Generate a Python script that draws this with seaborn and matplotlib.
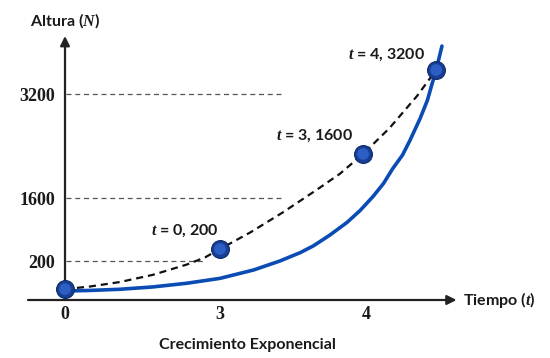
import numpy as np
import pandas as pd
import matplotlib
matplotlib.use('Agg')
import matplotlib.pyplot as plt
import seaborn as sns

# Points marked on the curve (t, N as drawn in the picture)
point_t = [0, 3, 3.98, 4.48]
point_n = [56, 467, 2277, 3569]
point_labels = ['', '$t$ = 0, 200', '$t$ = 3, 1600', '$t$ = 4, 3200']

# Dashed curve through the points
dash_t = [0, 0.48, 1.06, 1.70, 2.36, 2.71, 3.0, 3.21, 3.43, 3.66, 3.82, 3.98, 4.16, 4.35, 4.48]
dash_n = [56, 69, 92, 129, 182, 280, 467, 840, 1280, 1723, 1971, 2278, 2674, 3172, 3569]

# Solid blue exponential curve
curve_t = [0, 0.48, 1.06, 1.70, 2.36, 3.00, 3.23, 3.41, 3.55, 3.64, 3.75, 3.87, 3.96, 4.05,
           4.12, 4.18, 4.25, 4.30, 4.37, 4.42, 4.45, 4.48, 4.52]
curve_n = [46, 49, 55, 67, 86, 111, 154, 200, 387, 538, 771, 1058, 1324, 1629,
           1825, 2043, 2262, 2483, 2822, 3102, 3340, 3569, 3938]

xtick_vals = [0, 3, 4]
xtick_labels = ['0', '3', '4']
ytick_vals = [200, 1600, 3200]
ytick_labels = ['200', '1600', '3200']
grid_end = [2.70, 3.42, 3.42]

dash_df = pd.DataFrame({'t': dash_t, 'N': dash_n})
curve_df = pd.DataFrame({'t': curve_t, 'N': curve_n})
pts_df = pd.DataFrame({'t': point_t, 'N': point_n})


# the drawing is not to scale: piecewise linear axes
def t_fwd(t):
    t = np.asarray(t, dtype=float)
    return np.where(t <= 3, t * 155 / 3, 155 + (t - 3) * 146)


def t_inv(p):
    p = np.asarray(p, dtype=float)
    return np.where(p <= 155, p * 3 / 155, 3 + (p - 155) / 146)


def n_fwd(n):
    n = np.asarray(n, dtype=float)
    return np.where(n <= 200, n * 39 / 200,
                    np.where(n <= 1600, 39 + (n - 200) * 63 / 1400, 102 + (n - 1600) * 104 / 1600))


def n_inv(h):
    h = np.asarray(h, dtype=float)
    return np.where(h <= 39, h * 200 / 39,
                    np.where(h <= 102, 200 + (h - 39) * 1400 / 63, 1600 + (h - 102) * 1600 / 104))


sns.set_theme(style='white')
plt.rcParams['font.family'] = ['Lato', 'DejaVu Sans']
plt.rcParams['mathtext.fontset'] = 'custom'
plt.rcParams['mathtext.it'] = 'Liberation Serif:italic:bold'
plt.rcParams['mathtext.rm'] = 'Lato:bold'

fig = plt.figure(figsize=(5.5, 3.58), dpi=100)
ax = fig.add_axes([65 / 550, 58 / 358, 405 / 550, 270 / 358])
ax.set_xscale('function', functions=(t_fwd, t_inv))
ax.set_yscale('function', functions=(n_fwd, n_inv))
ax.set_xlim(0, 4.712)
ax.set_ylim(0, 4185)

for y, xe in zip(ytick_vals, grid_end):
    ax.hlines(y, 0.02, xe, colors='#555555', linestyles=(0, (4, 3)), lw=0.9, zorder=1)

sns.lineplot(data=curve_df, x='t', y='N', color='#0a4cb4', lw=2.6, ax=ax, zorder=3, sort=False)
sns.lineplot(data=dash_df, x='t', y='N', color='#111111', lw=1.6, ax=ax, zorder=4, sort=False,
             linestyle=(0, (3.2, 2.2)))

# axes with arrows
ax.annotate('', xy=(4.62, 0), xytext=(-0.716, 0), annotation_clip=False,
            arrowprops=dict(arrowstyle='-|>', lw=1.6, color='#222222', mutation_scale=14, shrinkA=0, shrinkB=0))
ax.annotate('', xy=(0, 4092), xytext=(0, 0), annotation_clip=False,
            arrowprops=dict(arrowstyle='-|>', lw=1.6, color='#222222', mutation_scale=14, shrinkA=0, shrinkB=0))

# spheres
sns.scatterplot(data=pts_df, x='t', y='N', s=165, color='#173f96', edgecolor='#0e2a68', linewidth=0.8,
                ax=ax, zorder=5, clip_on=False)
sns.scatterplot(data=pts_df, x='t', y='N', s=70, color='#2d5ec4', edgecolor='none',
                ax=ax, zorder=6, clip_on=False)

offsets = [(0, 0), (-25, 13), (-35, 13), (-36, 11)]
for t, n, lab, off in zip(point_t, point_n, point_labels, offsets):
    if lab:
        ax.annotate(lab, (t, n), xytext=off, textcoords='offset points', ha='center', va='center',
                    fontsize=11.5, fontweight='bold', color='#1a1a1a')

for s in ax.spines.values():
    s.set_visible(False)
ax.set_xticks(xtick_vals, xtick_labels)
ax.set_yticks(ytick_vals, ytick_labels)
ax.tick_params(axis='y', length=0, pad=7)
ax.tick_params(axis='x', length=5, width=0.8, direction='in', pad=4, color='#333333')
for lab in ax.get_xticklabels() + ax.get_yticklabels():
    lab.set_fontfamily('Liberation Serif')
    lab.set_fontweight('bold')
    lab.set_fontsize(13)
    lab.set_color('#1a1a1a')
ax.set_xlabel('')
ax.set_ylabel('')

fig.text(30 / 550, 1 - 21 / 358, 'Altura ($N$)', ha='left', va='center', fontsize=11.5, fontweight='bold',
         color='#1a1a1a')
fig.text(463 / 550, 1 - 300 / 358, 'Tiempo ($t$)', ha='left', va='center', fontsize=11.5, fontweight='bold',
         color='#1a1a1a')
fig.text(247 / 550, 1 - 345 / 358, 'Crecimiento Exponencial', ha='center', va='center', fontsize=11.5,
         fontweight='bold', color='#1a1a1a')

fig.savefig('out.png', dpi=100)
